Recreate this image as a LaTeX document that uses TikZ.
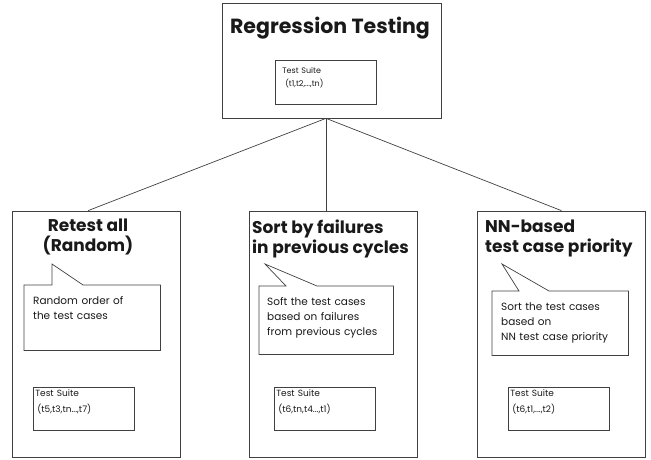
\documentclass[tikz,border=0pt]{standalone}
\usepackage{fontspec}
\setmainfont{Poppins}
\usetikzlibrary{positioning}
\tikzset{
  Frame/.style={draw=black!75, line width=0.7pt, inner sep=0pt},
  Branch/.style={Frame, minimum width=168pt, minimum height=246pt},
  Suite/.style={
    draw=black!75, line width=0.7pt, anchor=north west,
    text width=97pt, align=left, inner xsep=2pt, inner ysep=3pt,
    text height=6pt, text depth=31pt,
    font=\fontsize{9}{16}\selectfont,
  },
  Note/.style={
    anchor=north west, text width=118pt, align=left,
    inner xsep=9pt, inner ysep=11pt, text height=8pt, text depth=35pt,
    font=\fontsize{10.5}{15}\selectfont,
  },
  Title/.style={font=\bfseries\fontsize{17}{20}\selectfont, align=left, inner sep=0pt},
  Link/.style={draw=black!75, line width=0.7pt},
}

\begin{document}
\begin{tikzpicture}[x=1pt, y=-1pt, text=black!90]
\useasboundingbox (0,0) rectangle (651,460);
% top box
\node[Frame, minimum width=219pt, minimum height=115pt] (root) at (331.5,60.5) {};
\node[font=\bfseries\fontsize{20.5}{24}\selectfont, inner sep=0pt] (rootT) at (330,28) {Regression Testing};
\node[Suite, inner xsep=7pt, text width=87pt, inner ysep=7pt, text height=6pt, text depth=24pt, font=\fontsize{8}{13}\selectfont] (suite0) at (275,60) {Test Suite\\\hspace*{3pt}(t1,t2,...,tn)};
% three strategies
\node[Branch] (retest) at (96.5,334) {};
\node[Branch] (failures) at (333,334) {};
\node[Branch] (nnprio) at (561.5,334) {};
\node[Title, align=center] (retestT) at (88,237) {Retest all\\(Random)};
\node[Title, anchor=north west] (failuresT) at (252,220) {Sort by failures\\in previous cycles};
\node[Title, anchor=north west] (nnprioT) at (485,220) {NN-based\\test case priority};
% notes
\node[Note] (note1) at (24,285) {Random order of\\the test cases};
\node[Note, inner xsep=8pt, text depth=38pt] (note2) at (259,286) {Soft the test cases\\based on failures\\from previous cycles};
\node[Note, text depth=34pt] (note3) at (492,291) {Sort the test cases\\based on\\NN test case priority};
\draw[Link] (note1.north east) -- (note1.south east) -- (note1.south west) -- (note1.north west)
  -- ([xshift=28pt]note1.north west) -- ([xshift=28pt, yshift=21pt]note1.north west)
  -- ([xshift=59pt]note1.north west) -- cycle;
\draw[Link] (note2.north east) -- (note2.south east) -- (note2.south west) -- (note2.north west)
  -- ([xshift=27pt]note2.north west) -- ([xshift=6pt, yshift=22pt]note2.north west)
  -- ([xshift=58pt]note2.north west) -- cycle;
\draw[Link] (note3.north east) -- (note3.south east) -- (note3.south west) -- (note3.north west)
  -- ([xshift=27pt]note3.north west) -- ([xshift=10pt, yshift=27pt]note3.north west)
  -- ([xshift=57pt]note3.north west) -- cycle;
% reordered suites
\node[Suite] (suite1) at (33,387) {Test Suite\\\hspace*{2pt}(t5,t3,tn...,t7)};
\node[Suite] (suite2) at (274,387) {Test Suite\\\hspace*{2pt}(t6,tn,t4...,t1)};
\node[Suite] (suite3) at (508,387) {Test Suite\\\hspace*{2pt}(t6,t1,...,t2)};
% links
\coordinate (hub) at ([xshift=-5.5pt]root.south);
\draw[Link] (hub) -- ([xshift=-8.5pt]retest.north);
\draw[Link] (hub) -- (hub |- failures.north);
\draw[Link] (hub) -- (nnprio.north);
\end{tikzpicture}
\end{document}
